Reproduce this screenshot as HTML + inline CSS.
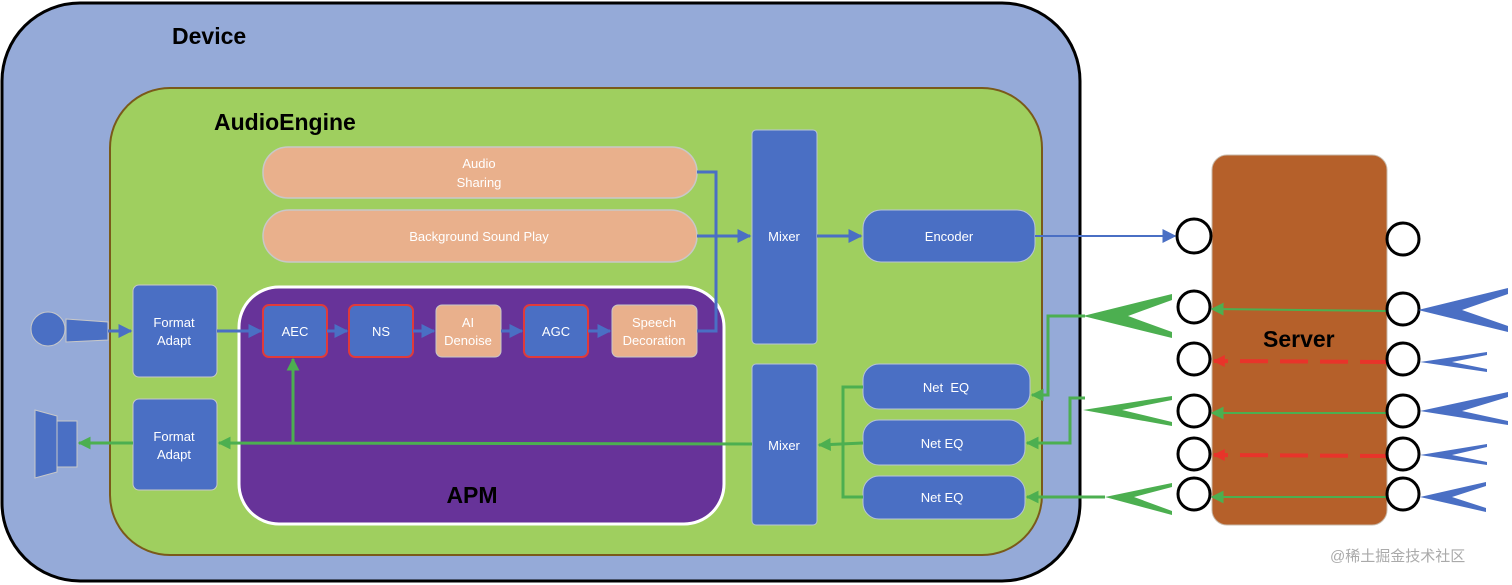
<!DOCTYPE html>
<html><head><meta charset="utf-8"><style>
html,body{margin:0;padding:0;background:#fff;}
svg{display:block;}
text{font-family:"Liberation Sans","Noto Sans CJK SC",sans-serif;}
.w{fill:#fff;font-size:13px;text-anchor:middle;}
.b{font-weight:bold;font-size:23px;fill:#000;}
</style></head><body>
<svg width="1512" height="585" viewBox="0 0 1512 585" xmlns="http://www.w3.org/2000/svg">
<defs>
<marker id="abig" viewBox="0 0 10 10" markerWidth="14" markerHeight="14" refX="9" refY="5" orient="auto" markerUnits="userSpaceOnUse"><path d="M0,0 L10,5 L0,10Z" fill="#4a6fc4"/></marker>
<marker id="ag" viewBox="0 0 10 10" markerWidth="13" markerHeight="13" refX="9" refY="5" orient="auto" markerUnits="userSpaceOnUse"><path d="M0,0 L10,5 L0,10Z" fill="#4caf50"/></marker>
<marker id="ar" viewBox="0 0 10 10" markerWidth="12" markerHeight="12" refX="9" refY="5" orient="auto" markerUnits="userSpaceOnUse"><path d="M0,0 L10,5 L0,10Z" fill="#e8342a"/></marker>
</defs>
<rect x="2" y="3" width="1078" height="578" rx="78" fill="#95aad8" stroke="#000" stroke-width="3"/>
<text x="172" y="44" class="b">Device</text>
<rect x="110" y="88" width="932" height="467" rx="60" fill="#9fcf5f" stroke="#7a5a1a" stroke-width="2"/>
<text x="214" y="130" class="b">AudioEngine</text>
<rect x="263" y="147" width="434" height="51" rx="25" fill="#e9b08c" stroke="#c8c8c8" stroke-width="1.5"/>
<text x="479" y="168" class="w">Audio</text><text x="479" y="187" class="w">Sharing</text>
<rect x="263" y="210" width="434" height="52" rx="26" fill="#e9b08c" stroke="#c8c8c8" stroke-width="1.5"/>
<text x="479" y="241" class="w">Background Sound Play</text>
<rect x="239" y="287" width="485" height="237" rx="40" fill="#673399" stroke="#fff" stroke-width="3"/>
<text x="472" y="503" class="b" text-anchor="middle">APM</text>
<rect x="752" y="130" width="65" height="214" rx="4" fill="#4a6fc4" stroke="#b8c4d8" stroke-width="1"/>
<text x="784" y="241" class="w">Mixer</text>
<rect x="752" y="364" width="65" height="161" rx="4" fill="#4a6fc4" stroke="#b8c4d8" stroke-width="1"/>
<text x="784" y="450" class="w">Mixer</text>
<rect x="863" y="210" width="172" height="52" rx="18" fill="#4a6fc4" stroke="#b8c4d8"/>
<text x="949" y="241" class="w">Encoder</text>
<rect x="863" y="364" width="167" height="45" rx="16" fill="#4a6fc4" stroke="#b8c4d8"/>
<text x="946" y="392" class="w">Net&#160; EQ</text>
<rect x="863" y="420" width="162" height="45" rx="16" fill="#4a6fc4" stroke="#b8c4d8"/>
<text x="942" y="448" class="w">Net EQ</text>
<rect x="863" y="476" width="162" height="43" rx="16" fill="#4a6fc4" stroke="#b8c4d8"/>
<text x="942" y="502" class="w">Net EQ</text>
<rect x="133" y="285" width="84" height="92" rx="6" fill="#4a6fc4" stroke="#c8c8c8"/>
<text x="174" y="327" class="w">Format</text><text x="174" y="345" class="w">Adapt</text>
<rect x="133" y="399" width="84" height="91" rx="6" fill="#4a6fc4" stroke="#c8c8c8"/>
<text x="174" y="441" class="w">Format</text><text x="174" y="459" class="w">Adapt</text>
<rect x="263" y="305" width="64" height="52" rx="6" fill="#4a6fc4" stroke="#e03a3a" stroke-width="2"/>
<text x="295" y="336" class="w">AEC</text>
<rect x="349" y="305" width="64" height="52" rx="6" fill="#4a6fc4" stroke="#e03a3a" stroke-width="2"/>
<text x="381" y="336" class="w">NS</text>
<rect x="436" y="305" width="65" height="52" rx="6" fill="#e9b08c" stroke="#c8c8c8"/>
<text x="468" y="327" class="w">AI</text><text x="468" y="345" class="w">Denoise</text>
<rect x="524" y="305" width="64" height="52" rx="6" fill="#4a6fc4" stroke="#e03a3a" stroke-width="2"/>
<text x="556" y="336" class="w">AGC</text>
<rect x="612" y="305" width="85" height="52" rx="6" fill="#e9b08c" stroke="#c8c8c8"/>
<text x="654" y="327" class="w">Speech</text><text x="654" y="345" class="w">Decoration</text>
<circle cx="48" cy="329" r="17" fill="#4a6fc4" stroke="#c8c8c8"/>
<path d="M66,319 L108,322 L108,340 L66,342Z" fill="#4a6fc4" stroke="#c8c8c8"/>
<path d="M35,410 L57,416 L57,472 L35,478Z" fill="#4a6fc4" stroke="#c8c8c8"/>
<rect x="57" y="421" width="20" height="46" fill="#4a6fc4" stroke="#c8c8c8"/>
<g stroke="#4a6fc4" stroke-width="3" fill="none">
<line x1="108" y1="331" x2="131" y2="331" marker-end="url(#abig)"/>
<line x1="217" y1="331" x2="261" y2="331" marker-end="url(#abig)"/>
<line x1="327" y1="331" x2="347" y2="331" marker-end="url(#abig)"/>
<line x1="413" y1="331" x2="434" y2="331" marker-end="url(#abig)"/>
<line x1="501" y1="331" x2="522" y2="331" marker-end="url(#abig)"/>
<line x1="588" y1="331" x2="610" y2="331" marker-end="url(#abig)"/>
<polyline points="697,172 716,172 716,331 697,331"/>
<line x1="697" y1="236" x2="750" y2="236" marker-end="url(#abig)"/>
<line x1="817" y1="236" x2="861" y2="236" marker-end="url(#abig)"/>
<line x1="1035" y1="236" x2="1175" y2="236" stroke-width="2" marker-end="url(#abig)"/>
</g>
<g stroke="#4caf50" stroke-width="3" fill="none">
<line x1="752" y1="444" x2="219" y2="443" marker-end="url(#ag)"/>
<polyline points="293,443 293,359" marker-end="url(#ag)"/>
<line x1="133" y1="443" x2="79" y2="443" marker-end="url(#ag)"/>
<polyline points="863,387 843,387 843,497 863,497"/>
<line x1="863" y1="443" x2="819" y2="445" marker-end="url(#ag)"/>
<polyline points="1085,316 1048,316 1048,395 1032,395" marker-end="url(#ag)"/>
<polyline points="1085,398 1070,398 1070,443 1027,443" marker-end="url(#ag)"/>
<line x1="1105" y1="497" x2="1027" y2="497" marker-end="url(#ag)"/>
</g>
<rect x="1212" y="155" width="175" height="370" rx="15" fill="#b5602a" stroke="#c8b8a8"/>
<text x="1263" y="347" class="b">Server</text>
<g stroke="#4caf50" stroke-width="2" fill="none">
<line x1="1388" y1="311" x2="1212" y2="309" marker-end="url(#ag)"/>
<line x1="1388" y1="413" x2="1212" y2="413" marker-end="url(#ag)"/>
<line x1="1388" y1="497" x2="1212" y2="497" marker-end="url(#ag)"/>
</g>
<g stroke="#e8342a" stroke-width="4" fill="none" stroke-dasharray="28,12">
<line x1="1388" y1="362" x2="1214" y2="361" marker-end="url(#ar)"/>
<line x1="1388" y1="456" x2="1214" y2="455" marker-end="url(#ar)"/>
</g>
<g fill="#fff" stroke="#000" stroke-width="3">
<circle cx="1194" cy="236" r="17"/><circle cx="1403" cy="239" r="16"/>
<circle cx="1194" cy="307" r="16"/><circle cx="1403" cy="309" r="16"/>
<circle cx="1194" cy="359" r="16"/><circle cx="1403" cy="359" r="16"/>
<circle cx="1194" cy="411" r="16"/><circle cx="1403" cy="411" r="16"/>
<circle cx="1194" cy="454" r="16"/><circle cx="1403" cy="454" r="16"/>
<circle cx="1194" cy="494" r="16"/><circle cx="1403" cy="494" r="16"/>
</g>
<g fill="#4caf50">
<path d="M1083,316 L1172,294 L1172,300 L1128,316 L1172,332 L1172,338Z"/>
<path d="M1083,410 L1172,396 L1172,400 L1122,410 L1172,422 L1172,426Z"/>
<path d="M1105,497 L1172,483 L1172,487 L1134,497 L1172,511 L1172,515Z"/>
</g>
<g fill="#4a6fc4">
<path d="M1418,310 L1508,288 L1508,294 L1462,310 L1508,326 L1508,332Z"/>
<path d="M1420,362 L1487,352 L1487,355 L1452,362 L1487,369 L1487,372Z"/>
<path d="M1420,411 L1508,392 L1508,397 L1462,411 L1508,421 L1508,425Z"/>
<path d="M1420,455 L1487,444 L1487,447 L1452,455 L1487,462 L1487,465Z"/>
<path d="M1420,497 L1486,482 L1486,486 L1452,497 L1486,508 L1486,512Z"/>
</g>
<text x="1330" y="561" style="font-size:15px;fill:#aaa;">@稀土掘金技术社区</text>
</svg>
</body></html>
